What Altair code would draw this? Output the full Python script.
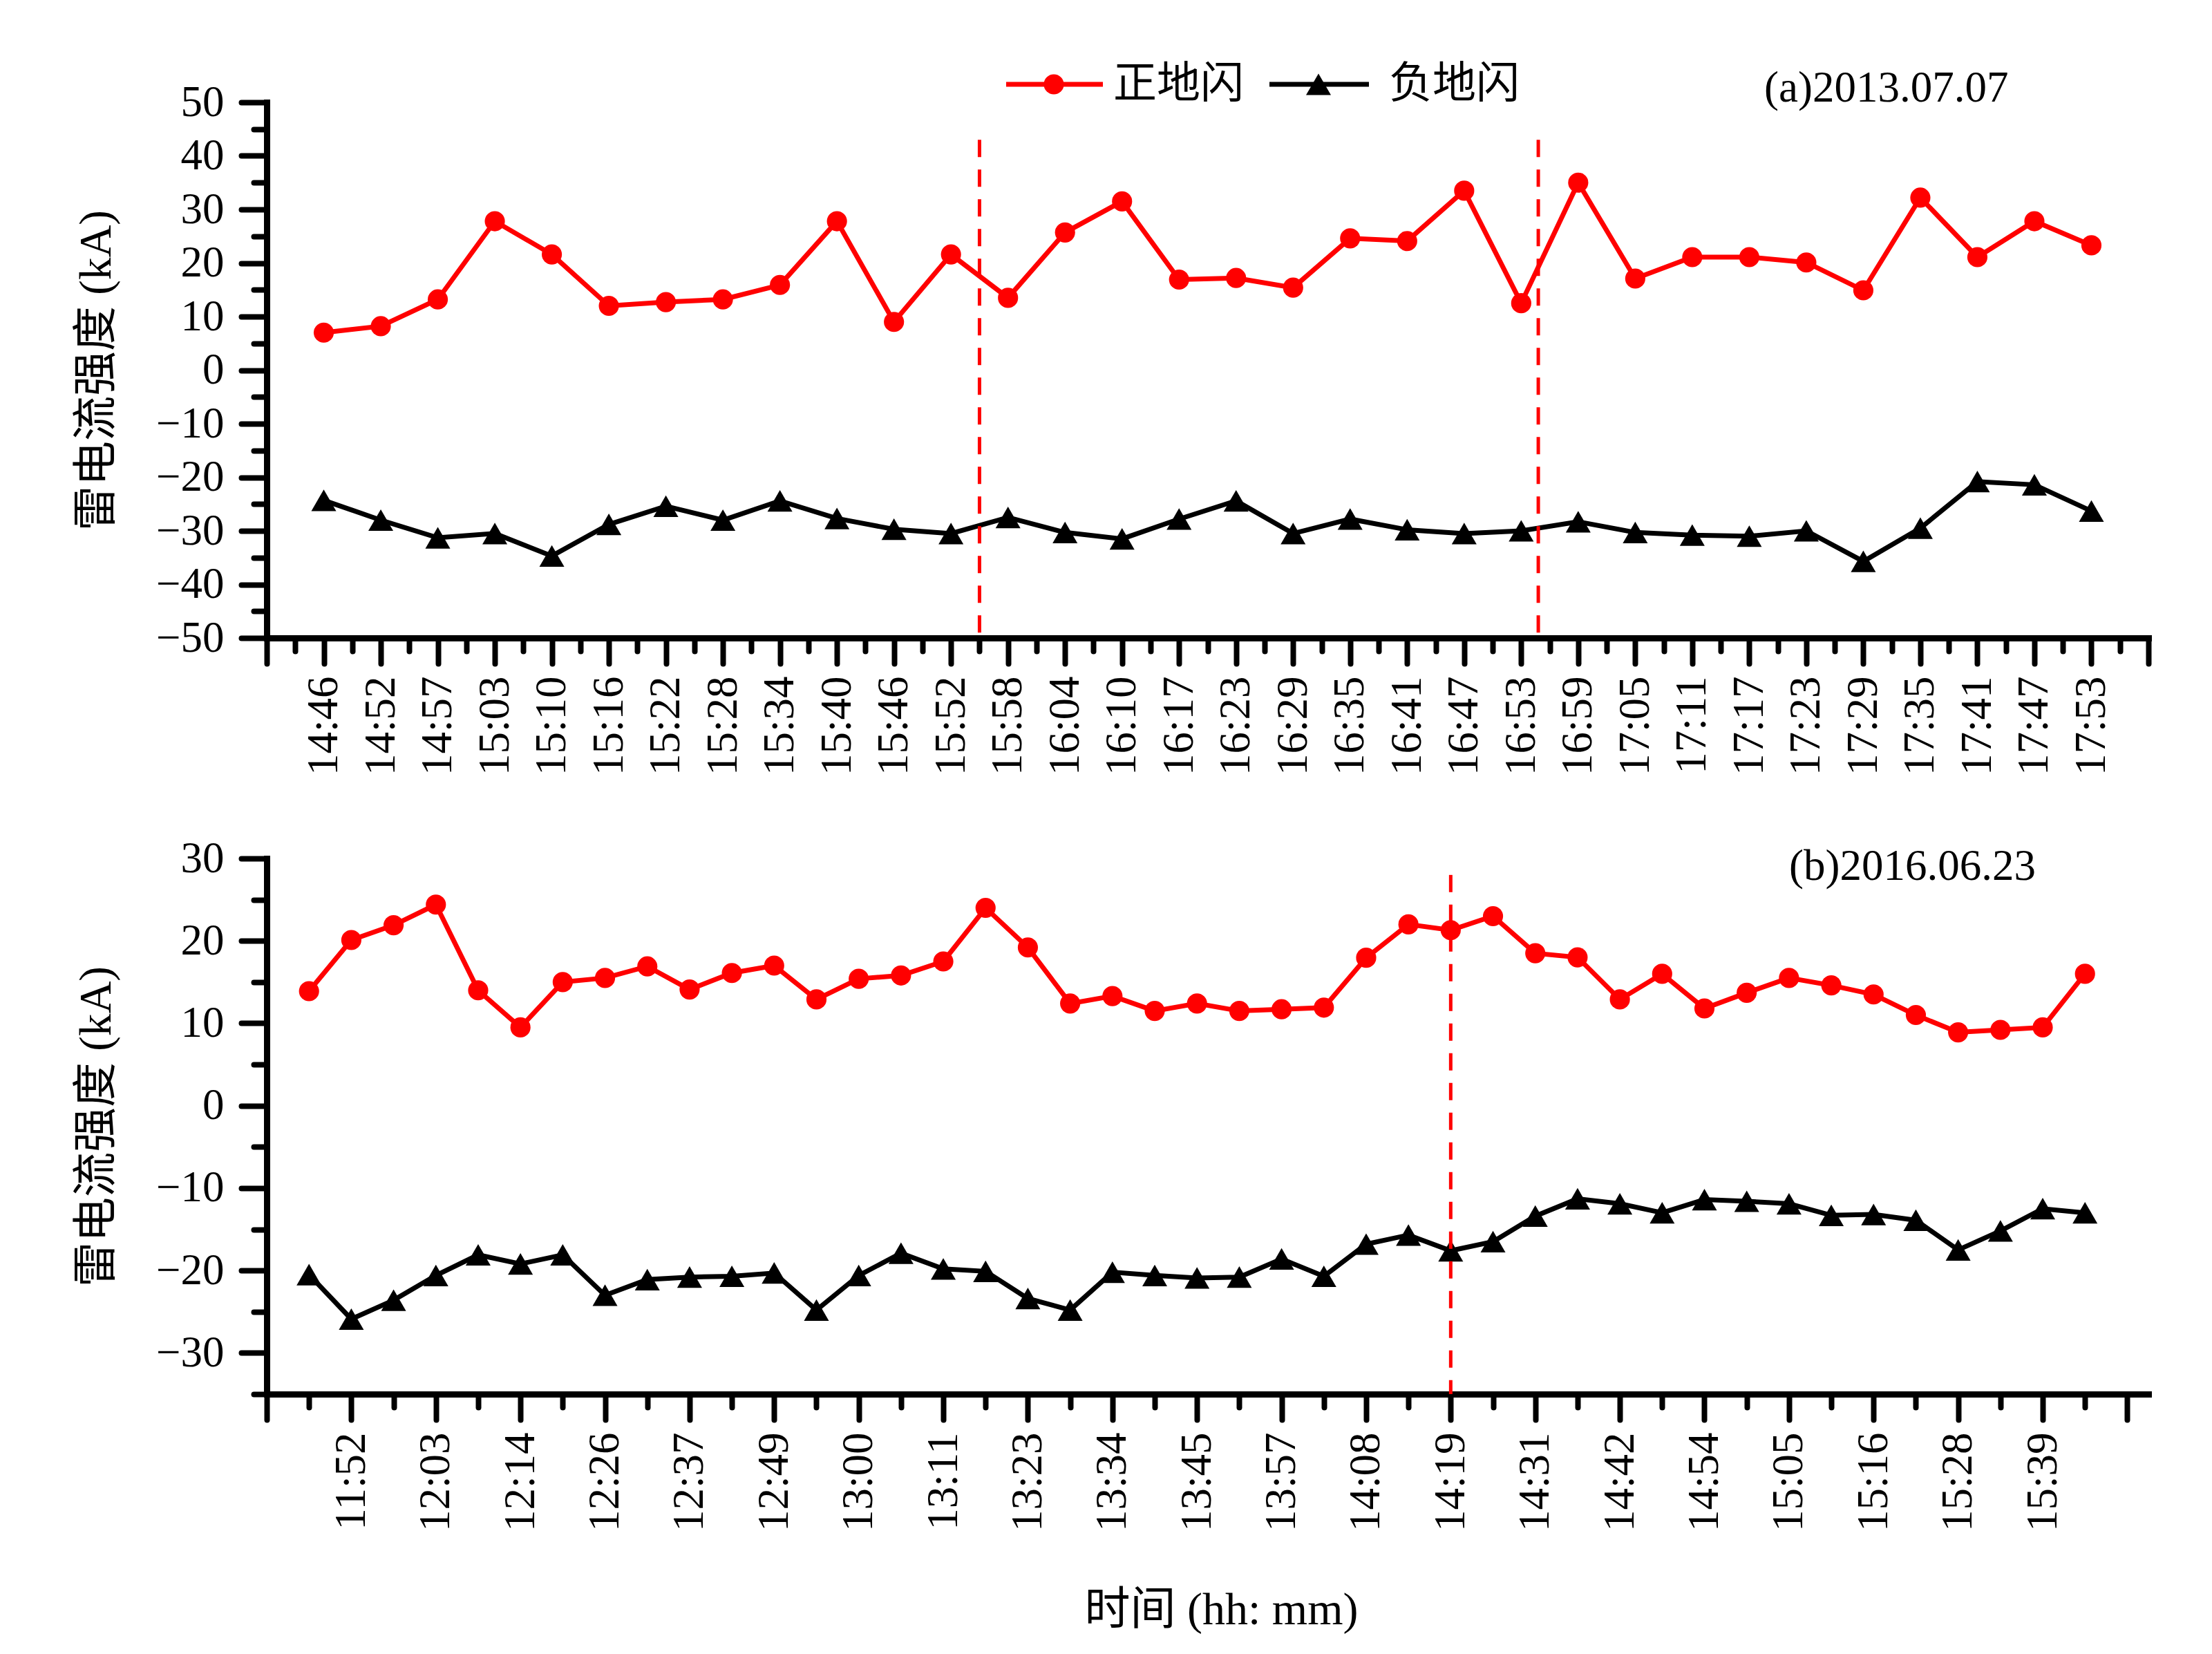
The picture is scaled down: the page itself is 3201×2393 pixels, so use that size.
import json
import numpy as np
import pandas as pd
import altair as alt

# ---------------- data ----------------
top_labels = ["14:46", "14:52", "14:57", "15:03", "15:10", "15:16", "15:22", "15:28",
              "15:34", "15:40", "15:46", "15:52", "15:58", "16:04", "16:10", "16:17",
              "16:23", "16:29", "16:35", "16:41", "16:47", "16:53", "16:59", "17:05",
              "17:11", "17:17", "17:23", "17:29", "17:35", "17:41", "17:47", "17:53"]
top_pos = [7.0, 8.2, 13.2, 27.8, 21.6, 12.0, 12.7, 13.2, 15.9, 27.8, 9.0, 21.6,
           13.5, 25.7, 31.5, 16.9, 17.2, 15.4, 24.6, 24.1, 33.5, 12.5, 35.0, 17.1,
           21.1, 21.1, 20.1, 14.9, 32.2, 21.1, 27.8, 23.3]
top_neg = [-24.3, -28.0, -31.3, -30.5, -34.7, -28.8, -25.4, -28.0, -24.4, -27.7, -29.7, -30.5,
           -27.5, -30.3, -31.5, -27.8, -24.4, -30.5, -27.8, -29.8, -30.5, -30.0, -28.3, -30.3,
           -30.8, -31.0, -30.0, -35.7, -29.5, -20.8, -21.4, -26.3]
top_dash_x = [11.5, 21.3]
top_dash_top = 43
top_tag = "(a)2013.07.07"

bot_labels = ["11:52", "12:03", "12:14", "12:26", "12:37", "12:49", "13:00", "13:11",
              "13:23", "13:34", "13:45", "13:57", "14:08", "14:19", "14:31", "14:42",
              "14:54", "15:05", "15:16", "15:28", "15:39"]
bot_pos = [13.9, 20.1, 21.9, 24.4, 14.0, 9.5, 15.0, 15.5, 16.9, 14.1, 16.1, 17.0,
           12.9, 15.4, 15.8, 17.5, 24.0, 19.2, 12.4, 13.3, 11.5, 12.4, 11.5, 11.7,
           11.9, 17.95, 22.0, 21.3, 23.0, 18.5, 18.0, 12.9, 16.0, 11.8, 13.7, 15.5,
           14.6, 13.5, 11.0, 8.9, 9.2, 9.5, 16.0]
bot_neg = [-20.5, -25.9, -23.6, -20.6, -18.1, -19.2, -18.1, -23.0, -21.1, -20.8,
           -20.7, -20.3, -24.8, -20.6, -17.9, -19.8, -20.1, -23.4, -24.8, -20.2,
           -20.6, -20.9, -20.8, -18.6, -20.7, -16.8, -15.7, -17.6, -16.5, -13.4,
           -11.3, -11.9, -13.0, -11.4, -11.6, -11.9, -13.3, -13.2, -13.9, -17.5,
           -15.2, -12.5, -13.0]
bot_dash_x = [27]
bot_dash_top = 28
bot_tag = "(b)2016.06.23"

series_names = ["正地闪", "负地闪"]
y_title = "雷电流强度 (kA)"
x_title = "时间 (hh: mm)"

# ---------------- style ----------------
FONT_NUM = "Liberation Serif"
FONT_MIX = "Liberation Serif, Noto Sans CJK SC"
RED = "#ff0000"
BLACK = "#000000"
W, H = 2723, 775
LBL = 63
LW = 7
CIRC = 850
TRI = 1300

top_df = pd.DataFrame({"i": np.arange(len(top_pos)), "pos": top_pos, "neg": top_neg})
bot_df = pd.DataFrame({"i": np.arange(len(bot_pos)), "pos": bot_pos, "neg": bot_neg})
top_dash = pd.DataFrame({"i": top_dash_x, "y": [top_dash_top] * len(top_dash_x),
                         "y2": [-50] * len(top_dash_x)})
bot_dash = pd.DataFrame({"i": bot_dash_x, "y": [bot_dash_top] * len(bot_dash_x),
                         "y2": [-35] * len(bot_dash_x)})


def common_axis(values, major_test, label_expr, **kw):
    return alt.Axis(
        values=values, grid=False,
        domainColor=BLACK, domainWidth=9, domainCap="square",
        tickColor=BLACK, tickWidth=8, tickCap="round",
        tickSize={"condition": {"test": major_test, "value": 37}, "value": 19},
        labelExpr=label_expr, labelFont=FONT_NUM, labelFontSize=LBL, labelColor=BLACK,
        labelOverlap=False, labelFlush=False, labelBound=False,
        **kw)


top_xaxis = common_axis(
    [float(v) for v in np.arange(-1, 32.01, 0.5)],
    "datum.value % 1 === 0",
    "datum.value >= 0 && datum.value <= 31 && datum.value % 1 === 0 ? "
    + json.dumps(top_labels) + "[datum.value] : ''",
    labelAngle=270, labelPadding=18, title=None)
bot_xaxis = common_axis(
    list(range(-1, 44)),
    "(datum.value + 1) % 2 === 0",
    "datum.value >= 1 && datum.value <= 41 && (datum.value + 1) % 2 === 0 ? "
    + json.dumps(bot_labels) + "[(datum.value - 1) / 2] : ''",
    labelAngle=270, labelPadding=18,
    title=x_title, titleFont=FONT_MIX, titleFontSize=66, titleFontWeight="normal",
    titleColor=BLACK, titlePadding=82, titleX=1381)


def y_axis(values):
    return common_axis(
        values, "datum.value % 10 === 0",
        "datum.value % 10 === 0 ? datum.label : ''",
        labelPadding=25,
        title=y_title, titleFont=FONT_MIX, titleFontSize=65, titleFontWeight="normal",
        titleColor=BLACK, titlePadding=52)


def panel(df, dash_df, xaxis, xdom, yaxis, ydom, extras):
    xs = alt.Scale(domain=xdom, nice=False, zero=False)
    ys = alt.Scale(domain=ydom, nice=False, zero=False)

    def X(f):
        return alt.X(f, type="quantitative", scale=xs, axis=xaxis)

    def Y(f):
        return alt.Y(f, type="quantitative", scale=ys, axis=yaxis)

    base = alt.Chart(df)
    layers = [
        base.mark_line(color=RED, strokeWidth=LW).encode(x=X("i"), y=Y("pos")),
        base.mark_line(color=BLACK, strokeWidth=LW).encode(x=X("i"), y=Y("neg")),
        base.mark_point(shape="circle", filled=True, size=CIRC, color=RED, opacity=1)
            .encode(x=X("i"), y=Y("pos")),
        base.mark_point(shape="triangle-up", filled=True, size=TRI, color=BLACK, opacity=1)
            .encode(x=X("i"), y=Y("neg")),
        alt.Chart(dash_df).mark_rule(color=RED, strokeWidth=5, strokeDash=[25, 18])
            .encode(x=X("i"), y=Y("y"), y2=alt.Y2("y2")),
    ]
    layers += extras
    return alt.layer(*layers).properties(width=W, height=H)


one = alt.Data(values=[{"k": 1}])


def txt(s, x, y, font=FONT_MIX, size=LBL):
    return alt.Chart(one).mark_text(text=s, font=font, fontSize=size, align="left",
                                    baseline="middle", color=BLACK).encode(
        x=alt.value(x), y=alt.value(y))


legend_y = -26
top_extras = [
    alt.Chart(one).mark_rule(color=RED, strokeWidth=LW).encode(
        x=alt.value(1070), x2=alt.value(1210), y=alt.value(legend_y)),
    alt.Chart(one).mark_point(shape="circle", filled=True, size=CIRC, color=RED, opacity=1)
        .encode(x=alt.value(1139), y=alt.value(legend_y)),
    txt(series_names[0], 1225, legend_y),
    alt.Chart(one).mark_rule(color=BLACK, strokeWidth=LW).encode(
        x=alt.value(1451), x2=alt.value(1595), y=alt.value(legend_y)),
    alt.Chart(one).mark_point(shape="triangle-up", filled=True, size=TRI, color=BLACK, opacity=1)
        .encode(x=alt.value(1522), y=alt.value(legend_y)),
    txt(series_names[1], 1624, legend_y),
    txt(top_tag, 2167, -20, font=FONT_NUM),
]
bot_extras = [txt(bot_tag, 2203, 12, font=FONT_NUM)]

top = panel(top_df, top_dash, top_xaxis, [-1, 32], y_axis(list(range(-50, 51, 5))), [-50, 50], top_extras)
bottom = panel(bot_df, bot_dash, bot_xaxis, [-1, 43.5], y_axis(list(range(-35, 31, 5))), [-35, 30], bot_extras)

chart = alt.vconcat(top, bottom, spacing=87).properties(
    padding={"left": 98, "top": 82, "right": 20, "bottom": 10},
    background="white",
).configure_view(stroke="transparent")

chart.save("out.html", embed_options={"renderer": "svg", "actions": False})
